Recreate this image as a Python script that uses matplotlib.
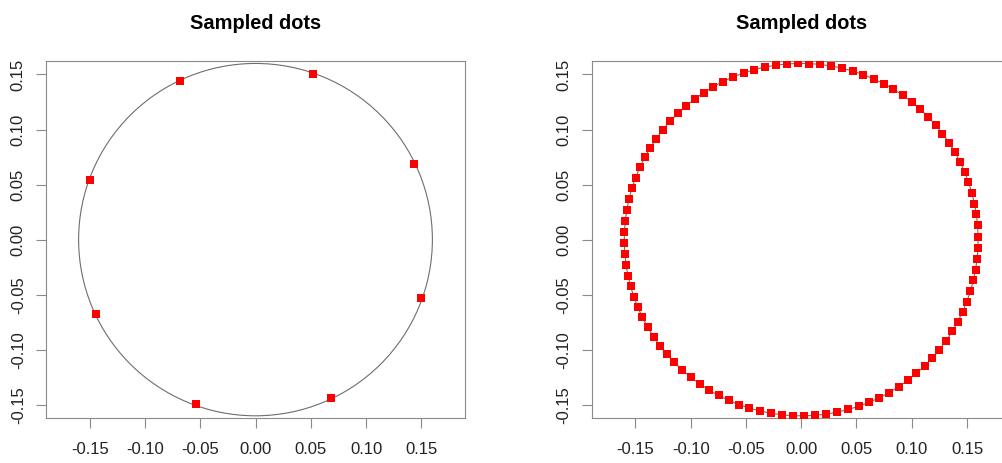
import numpy as np
import matplotlib
matplotlib.use("Agg")
import matplotlib.pyplot as plt
from matplotlib.patches import Circle

plt.rcParams['font.family'] = ['Liberation Sans', 'DejaVu Sans']

# ---- data ----
title = "Sampled dots"
radius = 0.16
ticks = [-0.15, -0.10, -0.05, 0.00, 0.05, 0.10, 0.15]
tick_labels = ["-0.15", "-0.10", "-0.05", "0.00", "0.05", "0.10", "0.15"]

left_x = [-0.068, 0.0523, 0.143, 0.150, 0.0679, -0.0535, -0.144, -0.150]
left_y = [0.1443, 0.1504, 0.0691, -0.0528, -0.1434, -0.1495, -0.0673, 0.0541]

right_angles_deg = [
    1.0, 4.6, 8.2, 11.8, 15.4, 19.0, 22.6, 26.2, 29.8, 33.4,
    37.0, 40.6, 44.2, 47.8, 51.4, 55.0, 58.6, 62.2, 65.8, 69.4,
    73.0, 76.6, 80.2, 83.8, 87.4, 91.0, 94.6, 98.2, 101.8, 105.4,
    109.0, 112.6, 116.2, 119.8, 123.4, 127.0, 130.6, 134.2, 137.8, 141.4,
    145.0, 148.6, 152.2, 155.8, 159.4, 163.0, 166.6, 170.2, 173.8, 177.4,
    181.0, 184.6, 188.2, 191.8, 195.4, 199.0, 202.6, 206.2, 209.8, 213.4,
    217.0, 220.6, 224.2, 227.8, 231.4, 235.0, 238.6, 242.2, 245.8, 249.4,
    253.0, 256.6, 260.2, 263.8, 267.4, 271.0, 274.6, 278.2, 281.8, 285.4,
    289.0, 292.6, 296.2, 299.8, 303.4, 307.0, 310.6, 314.2, 317.8, 321.4,
    325.0, 328.6, 332.2, 335.8, 339.4, 343.0, 346.6, 350.2, 353.8, 357.4,
]
right_theta = np.deg2rad(np.array(right_angles_deg))
right_x = radius * np.cos(right_theta)
right_y = radius * np.sin(right_theta)

# ---- figure ----
W, H = 1002, 463
fig = plt.figure(figsize=(W / 100, H / 100), dpi=100)

def px_axes(l, r, t, b):
    return fig.add_axes([l / W, (H - b) / H, (r - l) / W, (b - t) / H])

ax1 = px_axes(46, 465, 60.7, 418)
ax2 = px_axes(591.7, 1010.7, 60.7, 418)

for ax, xs, ys in [(ax1, left_x, left_y), (ax2, right_x, right_y)]:
    ax.add_patch(Circle((0, 0), radius, fill=False, edgecolor='#6e6e6e', linewidth=0.8, zorder=2))
    ax.plot(xs, ys, linestyle='none', marker='s', markersize=5.8,
            color='#ff0000', markeredgewidth=0, zorder=3)
    ax.set_xlim(-0.1895, 0.1895)
    ax.set_ylim(-0.1620, 0.1625)
    ax.set_xticks(ticks)
    ax.set_xticklabels(tick_labels)
    ax.set_yticks(ticks)
    ax.set_yticklabels(tick_labels, rotation=90, va='center')
    ax.tick_params(axis='both', direction='out', length=7.5, width=0.8,
                   color='#8a8a8a', labelsize=12, labelcolor='#222222')
    ax.tick_params(axis='x', pad=10)
    ax.tick_params(axis='y', pad=7)
    for s in ax.spines.values():
        s.set_color('#8a8a8a')
        s.set_linewidth(0.8)
    ax.set_title(title, fontsize=14.4, fontweight='bold', pad=23)

fig.savefig("out.png", dpi=100)
